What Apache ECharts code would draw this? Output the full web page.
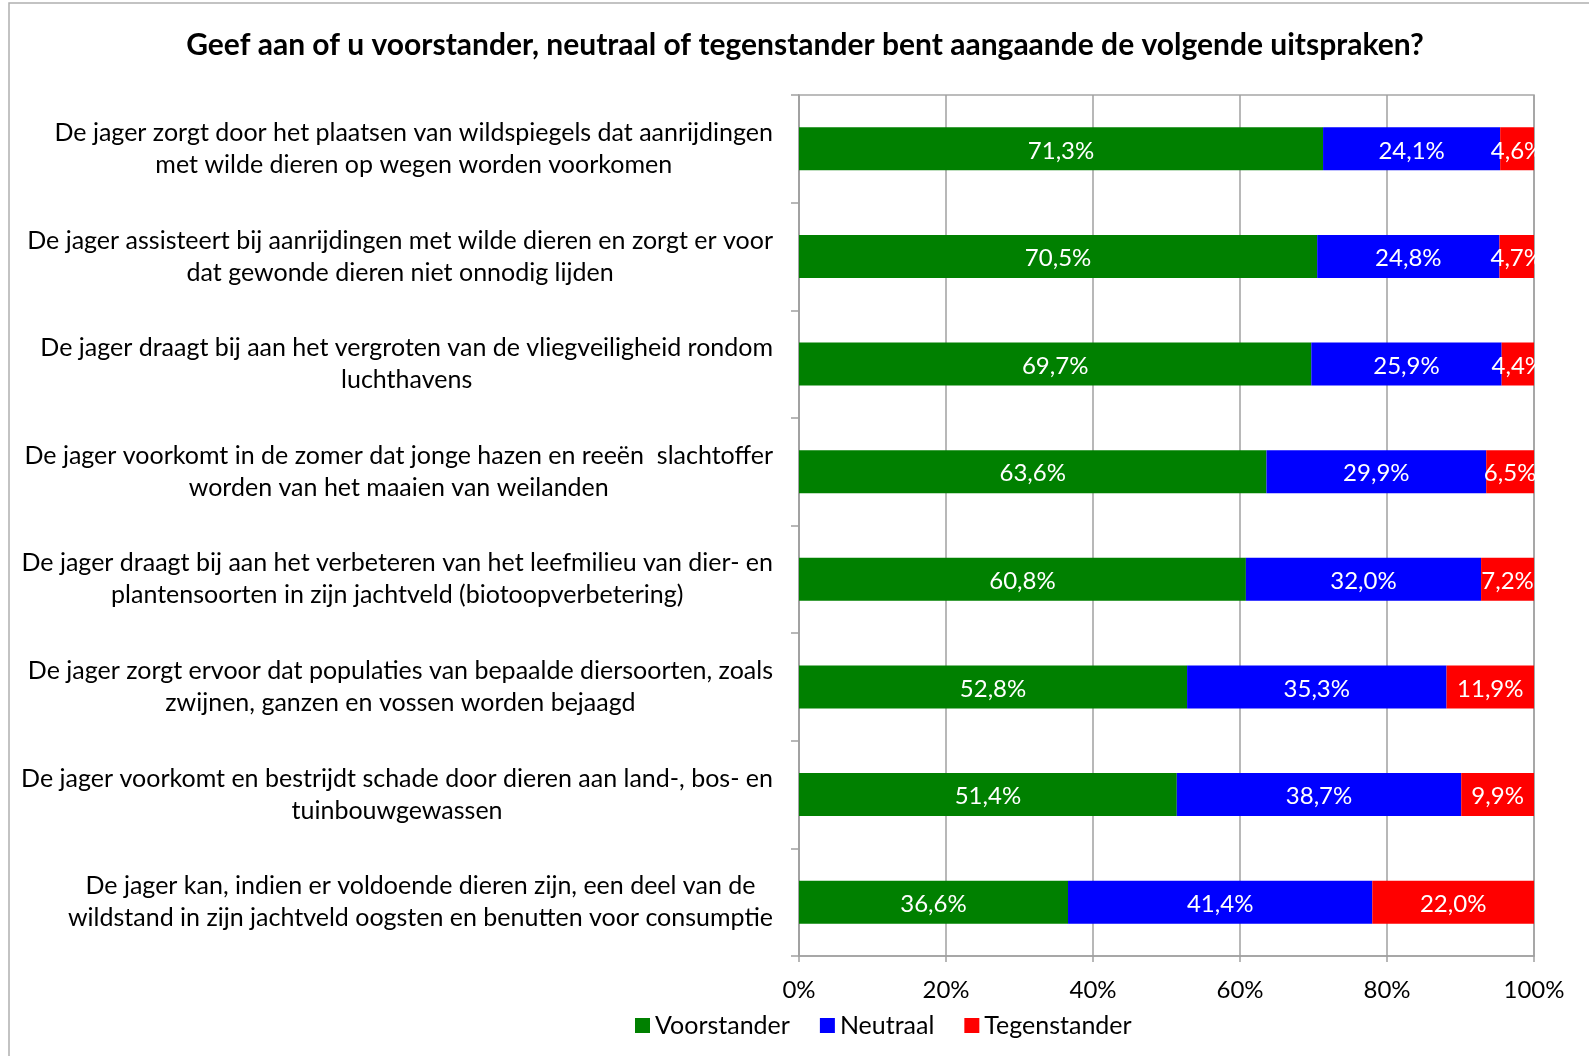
<!DOCTYPE html>
<html>
<head>
<meta charset="utf-8">
<script src="https://cdn.jsdelivr.net/npm/echarts@6/dist/echarts.min.js"></script>
<style>
  html, body { margin: 0; padding: 0; background: #fff; }
  #chart { width: 1589px; height: 1056px; }
</style>
</head>
<body>
<div id="chart"></div>
<script>
var categories = [
    'De jager zorgt door het plaatsen van wildspiegels dat aanrijdingen\nmet wilde dieren op wegen worden voorkomen',
    'De jager assisteert bij aanrijdingen met wilde dieren en zorgt er voor\ndat gewonde dieren niet onnodig lijden',
    'De jager draagt bij aan het vergroten van de vliegveiligheid rondom\nluchthavens',
    'De jager voorkomt in de zomer dat jonge hazen en reeën  slachtoffer\nworden van het maaien van weilanden',
    'De jager draagt bij aan het verbeteren van het leefmilieu van dier- en\nplantensoorten in zijn jachtveld (biotoopverbetering)',
    'De jager zorgt ervoor dat populaties van bepaalde diersoorten, zoals\nzwijnen, ganzen en vossen worden bejaagd',
    'De jager voorkomt en bestrijdt schade door dieren aan land-, bos- en\ntuinbouwgewassen',
    'De jager kan, indien er voldoende dieren zijn, een deel van de\nwildstand in zijn jachtveld oogsten en benutten voor consumptie'
];
var voorstander  = [71.3, 70.5, 69.7, 63.6, 60.8, 52.8, 51.4, 36.6];
var neutraal     = [24.1, 24.8, 25.9, 29.9, 32.0, 35.3, 38.7, 41.4];
var tegenstander = [4.6, 4.7, 4.4, 6.5, 7.2, 11.9, 9.9, 22.0];
var xTicks = [0, 20, 40, 60, 80, 100];

var FONT = 'Lato';

function pct(p) {
    return p.value.toFixed(1).replace('.', ',') + '%';
}

function makeSeries(name, data, color) {
    return {
        name: name,
        type: 'bar',
        stack: 'total',
        barWidth: 43,
        data: data,
        itemStyle: { color: color },
        label: {
            show: true,
            position: 'inside',
            offset: [0, 2],
            color: '#fff',
            fontFamily: FONT,
            fontSize: 24,
            formatter: pct
        }
    };
}

var chart = echarts.init(document.getElementById('chart'));
var option = {
    backgroundColor: '#fff',
    animation: false,
    title: {
        text: 'Geef aan of u voorstander, neutraal of tegenstander bent aangaande de volgende uitspraken?',
        left: 800,
        textAlign: 'center',
        top: 25,
        textStyle: { fontFamily: FONT, fontWeight: 'bold', fontSize: 30, color: '#000' }
    },
    graphic: [{
        type: 'rect',
        shape: { x: 9, y: 3, width: 1620, height: 1100 },
        style: { fill: 'none', stroke: '#b0b0b0', lineWidth: 1.5 },
        silent: true
    }],
    legend: {
        left: 630,
        top: 1008,
        icon: 'rect',
        itemWidth: 15,
        itemHeight: 15,
        itemGap: 30,
        textStyle: { fontFamily: FONT, fontSize: 25, color: '#000' },
        data: ['Voorstander', 'Neutraal', 'Tegenstander']
    },
    grid: {
        left: 799, right: 55, top: 95, bottom: 100,
        show: true, borderColor: '#a6a6a6', borderWidth: 1.5
    },
    xAxis: {
        type: 'value',
        min: 0,
        max: 100,
        interval: 20,
        axisLine: { show: true, lineStyle: { color: '#a0a0a0', width: 1.5 } },
        axisTick: { show: true, length: 6, lineStyle: { color: '#a0a0a0', width: 1.5 } },
        splitLine: { show: true, lineStyle: { color: '#a0a0a0', width: 1.5 } },
        axisLabel: {
            margin: 22,
            fontFamily: FONT, fontSize: 24, color: '#000',
            customValues: xTicks,
            formatter: '{value}%'
        }
    },
    yAxis: {
        type: 'category',
        inverse: true,
        data: categories,
        axisLine: { show: true, lineStyle: { color: '#a0a0a0', width: 1.5 } },
        axisTick: { show: true, length: 8, lineStyle: { color: '#a0a0a0', width: 1.5 } },
        axisLabel: {
            margin: 26,
            align: 'right',
            formatter: function (v) {
                return v.split('\n').map(function (l) { return '{c|' + l + '}'; }).join('\n');
            },
            rich: {
                c: { align: 'center', fontFamily: FONT, fontSize: 25, color: '#000', lineHeight: 32 }
            }
        }
    },
    color: ['#008000', '#0000ff', '#ff0000'],
    series: [
        makeSeries('Voorstander', voorstander, '#008000'),
        makeSeries('Neutraal', neutraal, '#0000ff'),
        makeSeries('Tegenstander', tegenstander, '#ff0000')
    ]
};
chart.setOption(option);
</script>
</body>
</html>
